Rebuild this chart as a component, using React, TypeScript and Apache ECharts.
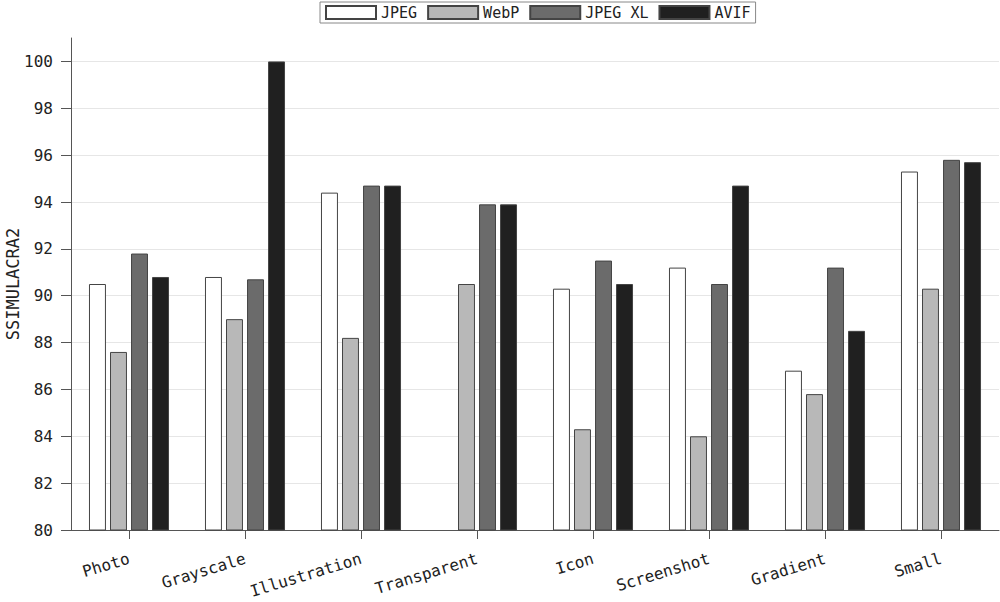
import React, { useEffect, useRef } from "react";
import * as echarts from "echarts";

const categories = ["Photo", "Grayscale", "Illustration", "Transparent", "Icon", "Screenshot", "Gradient", "Small"];
const jpeg = [90.5, 90.8, 94.4, null, 90.3, 91.2, 86.8, 95.3];
const webp = [87.6, 89.0, 88.2, 90.5, 84.3, 84.0, 85.8, 90.3];
const jpegxl = [91.8, 90.7, 94.7, 93.9, 91.5, 90.5, 91.2, 95.8];
const avif = [90.8, 100, 94.7, 93.9, 90.5, 94.7, 88.5, 95.7];
const yTicks = [80, 82, 84, 86, 88, 90, 92, 94, 96, 98, 100];

const FONT = "DejaVu Sans Mono";

export default function App() {
  const ref = useRef<HTMLDivElement>(null);
  useEffect(() => {
    if (!ref.current) return;
    const chart = echarts.init(ref.current, undefined, { renderer: "svg" });
    const mk = (name: string, data: (number | null)[], color: string) => ({
      name,
      type: "bar",
      data,
      itemStyle: { color, borderColor: "#444", borderWidth: 1 },
      barGap: "24%",
      barCategoryGap: "31%",
    });
    const splitColors = yTicks.map(() => "#e6e6e6").concat(["rgba(0,0,0,0)"]);
    chart.setOption({
      animation: false,
      textStyle: { fontFamily: FONT },
      legend: {
        left: 320,
        top: 2,
        icon: "rect",
        itemWidth: 50,
        itemHeight: 13,
        itemGap: 10,
        borderColor: "#888",
        borderWidth: 1,
        padding: [3, 5],
        textStyle: { fontFamily: FONT, fontSize: 15, color: "#222" },
        data: ["JPEG", "WebP", "JPEG XL", "AVIF"],
      },
      grid: { left: 71, right: 1, top: 38, bottom: 72, containLabel: false, outerBoundsMode: "none" },
      xAxis: {
        type: "category",
        data: categories,
        axisLine: { show: true, lineStyle: { color: "#555", width: 1 } },
        axisTick: { show: true, alignWithLabel: true, length: 9, lineStyle: { color: "#555" } },
        axisLabel: { rotate: 17, fontFamily: FONT, fontSize: 16, color: "#222", margin: 28, interval: 0 },
        splitLine: { show: false },
      },
      yAxis: {
        type: "value",
        min: 80,
        max: 101,
        interval: 2,
        name: "SSIMULACRA2",
        nameLocation: "middle",
        nameGap: 50,
        nameMoveOverlap: false,
        nameRotate: 90,
        nameTextStyle: { fontFamily: FONT, fontSize: 17, color: "#222" },
        axisLine: { show: true, lineStyle: { color: "#555", width: 1 } },
        axisTick: { show: true, length: 10, lineStyle: { color: "#555" }, customValues: yTicks },
        axisLabel: { fontFamily: FONT, fontSize: 16, color: "#222", margin: 18, customValues: yTicks },
        splitLine: { show: true, lineStyle: { color: splitColors, width: 1 } },
      },
      series: [
        mk("JPEG", jpeg, "#ffffff"),
        mk("WebP", webp, "#b8b8b8"),
        mk("JPEG XL", jpegxl, "#6b6b6b"),
        mk("AVIF", avif, "#202020"),
      ],
    });
    return () => chart.dispose();
  }, []);
  return (
    <div
      ref={ref}
      style={{ position: "fixed", left: 0, top: 0, width: 1000, height: 602, background: "#fff" }}
    />
  );
}
